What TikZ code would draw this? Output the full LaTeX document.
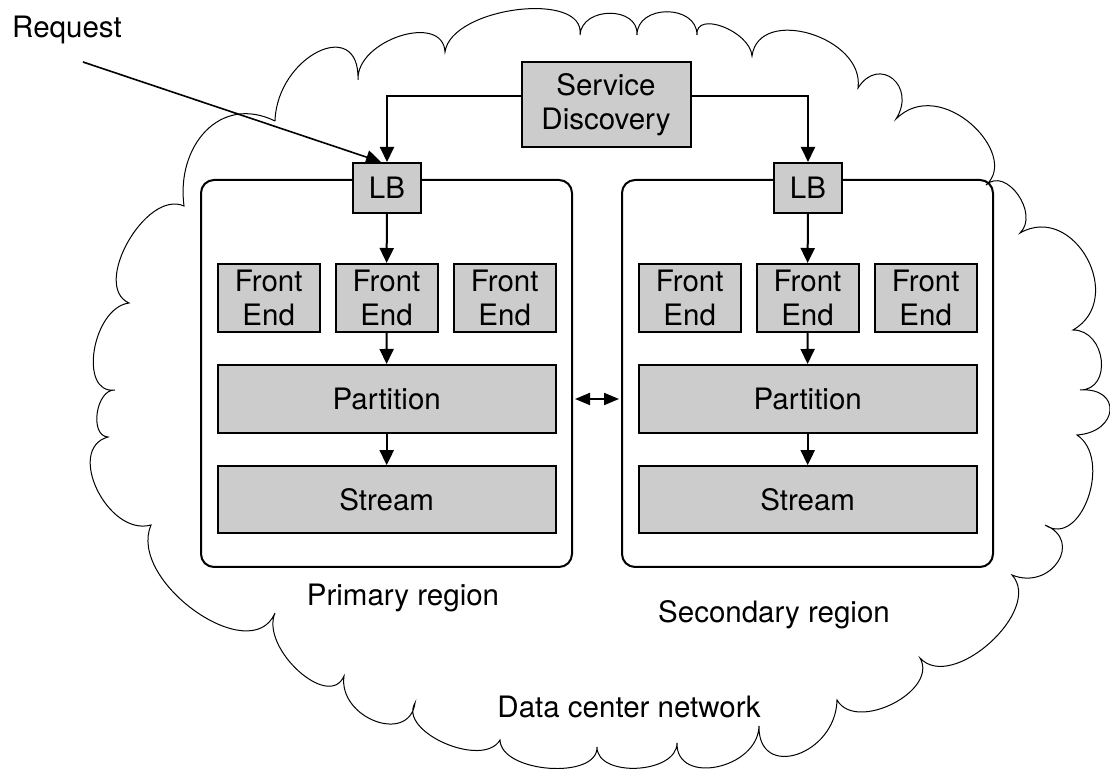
\documentclass[tikz,border=0pt]{standalone}
\usepackage{fontspec}
\setmainfont{TeX Gyre Heros}
\usepackage{tikz}
\usetikzlibrary{arrows.meta,calc}
\definecolor{boxgray}{RGB}{204,204,204}
\tikzset{
  box/.style={draw, fill=boxgray, line width=1pt, inner sep=0pt, align=center,
    font=\fontsize{14.75}{17}\selectfont},
  region/.style={draw, line width=1pt, rounded corners=6.5pt, minimum width=185.5pt, minimum height=193.5pt},
  lbl/.style={anchor=base, font=\fontsize{14.75}{17}\selectfont},
  arr/.style={line width=1pt, -{Triangle[length=7.5pt,width=7pt]}},
  dblarr/.style={line width=1pt, {Triangle[length=7.5pt,width=6pt]}-{Triangle[length=7.5pt,width=6pt]}}
}
\begin{document}
\begin{tikzpicture}[x=0.5pt, y=-0.5pt]
        \useasboundingbox (0,0) rectangle (1110,769);

        \draw[line width=0.5pt] (275,121)
          .. controls (277,56) and (360,15) .. (358,80)
          .. controls (356,40) and (443,12) .. (445,52)
          .. controls (451,7) and (586,-10) .. (580,35)
          .. controls (582,6) and (639,6) .. (637,35)
          .. controls (637,4) and (697,4) .. (697,35)
          .. controls (695,10) and (750,31) .. (752,56)
          .. controls (759,5) and (865,37) .. (858,88)
          .. controls (879,55) and (917,86) .. (896,119)
          .. controls (941,74) and (1021,155) .. (986,185)
          .. controls (1006,166) and (1040,214) .. (1020,233)
          .. controls (1074,202) and (1127,299) .. (1073,330)
          .. controls (1106,330) and (1113,390) .. (1080,390)
          .. controls (1122,387) and (1119,432) .. (1077,435)
          .. controls (1113,459) and (1081,549) .. (1045,525)
          .. controls (1084,541) and (1051,591) .. (1012,575)
          .. controls (1044,610) and (952,693) .. (920,658)
          .. controls (939,691) and (856,733) .. (837,700)
          .. controls (836,755) and (758,781) .. (759,726)
          .. controls (758,769) and (676,786) .. (677,743)
          .. controls (677,774) and (597,778) .. (597,747)
          .. controls (598,780) and (501,773) .. (500,740)
          .. controls (483,769) and (398,732) .. (415,703)
          .. controls (409,745) and (338,718) .. (344,676)
          .. controls (329,711) and (260,648) .. (275,613)
          .. controls (251,669) and (127,581) .. (151,525)
          .. controls (108,537) and (65,449) .. (108,437)
          .. controls (89,436) and (96,389) .. (115,390)
          .. controls (78,395) and (92,308) .. (129,303)
          .. controls (91,286) and (146,189) .. (184,206)
          .. controls (176,146) and (220,94) .. (275,121);

        \node[region] (regL) at (386.5,373.5) {};
        \node[region] (regR) at (807.5,373.5) {};

        \node[box, minimum width=84.5pt, minimum height=42.5pt] (sd) at (606,104.3) {Service\\Discovery};

        \node[box, minimum width=34pt, minimum height=25pt] (lbL) at (387,188) {LB};
        \node[box, minimum width=34pt, minimum height=25pt] (lbR) at (808,188) {LB};

        \node[box, minimum width=51pt, minimum height=34pt] (feL1) at (268.7,298) {Front\\End};
        \node[box, minimum width=51pt, minimum height=34pt] (feL2) at (386.5,298) {Front\\End};
        \node[box, minimum width=51pt, minimum height=34pt] (feL3) at (504.7,298) {Front\\End};
        \node[box, minimum width=51pt, minimum height=34pt] (feR1) at (689.7,298) {Front\\End};
        \node[box, minimum width=51pt, minimum height=34pt] (feR2) at (807.5,298) {Front\\End};
        \node[box, minimum width=51pt, minimum height=34pt] (feR3) at (925.7,298) {Front\\End};

        \node[box, minimum width=169pt, minimum height=34pt] (partL) at (386.7,399) {Partition};
        \node[box, minimum width=169pt, minimum height=34pt] (partR) at (807.7,399) {Partition};
        \node[box, minimum width=169pt, minimum height=33.5pt] (strL) at (386.7,499.7) {Stream};
        \node[box, minimum width=169pt, minimum height=33.5pt] (strR) at (807.7,499.7) {Stream};

        \node[lbl] (request) at (67,38) {Request};
        \node[lbl] (primary) at (403,606) {Primary region};
        \node[lbl] (secondary) at (774,623) {Secondary region};
        \node[lbl] (network) at (629,718) {Data center network};

        \coordinate (reqstart) at (83,62);
        \draw[arr, line width=0.8pt] (reqstart) -- ([xshift=-3pt]lbL.north);
        \draw[arr] ([yshift=4.3pt]sd.west) -| (lbL);
        \draw[arr] ([yshift=4.3pt]sd.east) -| (lbR);

        \draw[arr] (lbL) -- (feL2);
        \draw[arr] (feL2) -- (partL);
        \draw[arr] (partL) -- (strL);
        \draw[arr] (lbR) -- (feR2);
        \draw[arr] (feR2) -- (partR);
        \draw[arr] (partR) -- (strR);

        \draw[dblarr, shorten <=1pt, shorten >=1pt] (partL -| regL.east) -- (partR -| regR.west);
\end{tikzpicture}
\end{document}
